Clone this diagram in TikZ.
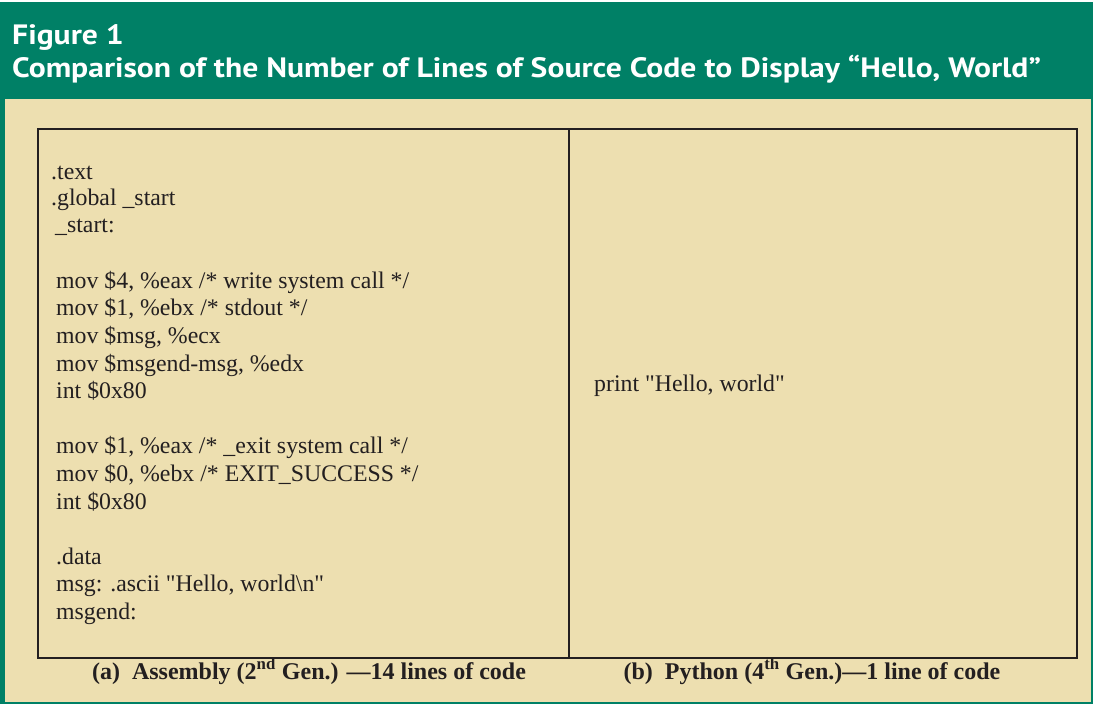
\documentclass[tikz,border=0pt]{standalone}
\usepackage{fontspec}
\setmainfont{Liberation Serif}
\newfontfamily\codefont[Ligatures=TeXOff]{Liberation Serif}
\newfontfamily\headfont{PT Sans}
\definecolor{hgreen}{RGB}{0,128,102}
\definecolor{beige}{RGB}{237,223,176}
\definecolor{ink}{RGB}{35,31,32}
\tikzset{
  codeline/.style={anchor=base west, inner sep=0pt, text=ink, font=\codefont\fontsize{23.8}{26}\selectfont},
  headline/.style={anchor=base west, inner sep=0pt, text=white, font=\headfont\bfseries\fontsize{28}{30}\selectfont},
  caption/.style={anchor=base, inner sep=0pt, text=ink, font=\bfseries\fontsize{24}{26}\selectfont},
  panel/.style={draw=ink, line width=2pt}
}
\begin{document}
\begin{tikzpicture}[x=1pt,y=-1pt]
\useasboundingbox (0,0) rectangle (1093,706);
\fill[white] (0,0) rectangle (1093,706);
\fill[hgreen] (0,2) rectangle (1093,704);
\fill[beige] (5,99) rectangle (1091,702);
\node[headline] (fig) at (12,45) {\scalebox{1.13}[1]{Figure 1}};
\node[headline] (title) at (12,78) {\scalebox{1.13}[1]{Comparison of the Number of Lines of Source Code to Display “Hello, World”}};
\node[panel, minimum width=531pt, minimum height=529pt, inner sep=0pt, anchor=north west] (left) at (37,128) {};
\node[panel, minimum width=508pt, minimum height=529pt, inner sep=0pt, anchor=north west] (right) at (568,128) {};
\node[codeline] (l1) at (51,179) {.text};
\node[codeline] (l2) at (51,206) {.global \_start};
\node[codeline] (l3) at (55,233) {\_start:};
\node[codeline] (l4) at (56,288) {mov \$4, \%eax /* write system call */};
\node[codeline] (l5) at (56,315) {mov \$1, \%ebx /* stdout */};
\node[codeline] (l6) at (56,343) {mov \$msg, \%ecx};
\node[codeline] (l7) at (56,371) {mov \$msgend-msg, \%edx};
\node[codeline] (l8) at (56,398) {int \$0x80};
\node[codeline] (l9) at (56,453) {mov \$1, \%eax /* \_exit system call */};
\node[codeline] (l10) at (56,481) {mov \$0, \%ebx /* EXIT\_SUCCESS */};
\node[codeline] (l11) at (56,509) {int \$0x80};
\node[codeline] (l12) at (56,564) {.data};
\node[codeline] (l13) at (56,591) {msg: .ascii "Hello, world\textbackslash n"};
\node[codeline] (l14) at (56,619) {msgend:};
\node[codeline] (py) at (594,391) {print "Hello, world"};
\node[caption] (capa) at (309,679) {(a)\enspace Assembly (2\textsuperscript{nd} Gen.) —14 lines of code};
\node[caption] (capb) at (812,679) {(b)\enspace Python (4\textsuperscript{th} Gen.)—1 line of code};
\end{tikzpicture}
\end{document}
